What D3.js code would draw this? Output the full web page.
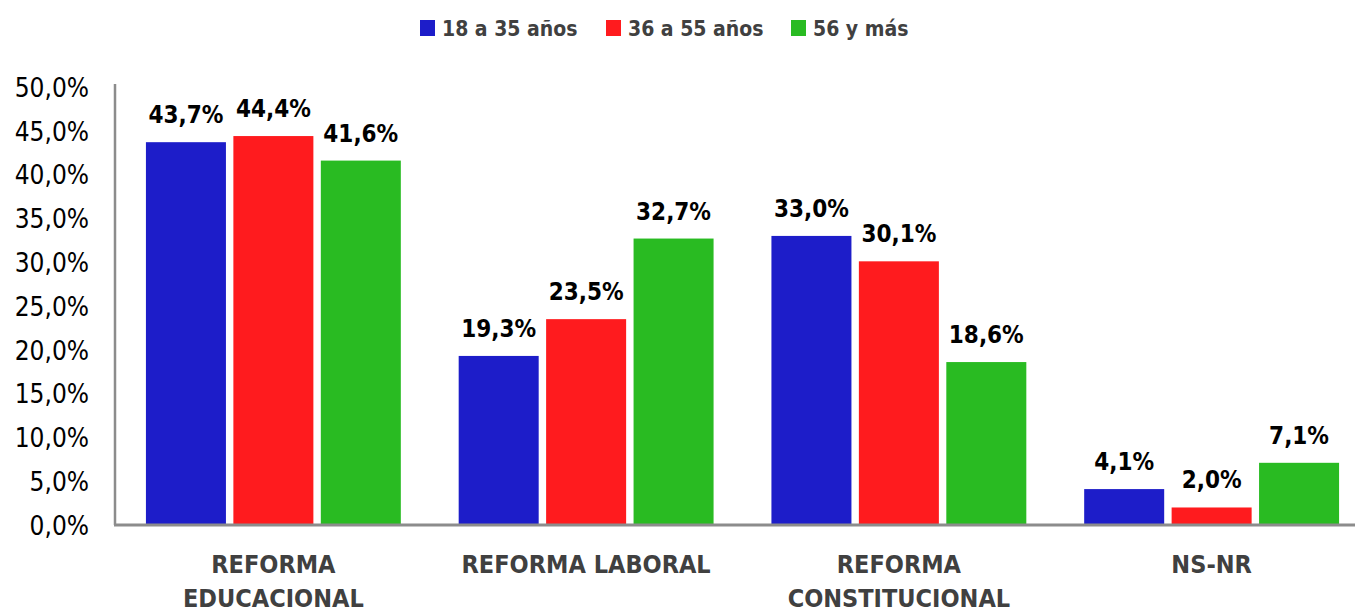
<!DOCTYPE html>
<html>
<head>
<meta charset="utf-8">
<script src="https://cdn.jsdelivr.net/npm/d3@7"></script>
<style>
  body { margin: 0; background: #fff; }
  svg { display: block; }
  text { font-family: "Liberation Sans Narrow", "DejaVu Sans Condensed", sans-serif; }
</style>
</head>
<body>
<div class="gv-chart"></div>
<script>
var categories = ["REFORMA\nEDUCACIONAL", "REFORMA LABORAL", "REFORMA\nCONSTITUCIONAL", "NS-NR"];
var seriesNames = ["18 a 35 años", "36 a 55 años", "56 y más"];
var seriesColors = ["#1d1dc9", "#ff1b1e", "#29bb22"];
var young = [43.7, 19.3, 33.0, 4.1];
var middle = [44.4, 23.5, 30.1, 2.0];
var older = [41.6, 32.7, 18.6, 7.1];
var yTicks = [0, 5, 10, 15, 20, 25, 30, 35, 40, 45, 50];

var width = 1355, height = 616;
var margin = {top: 87, bottom: 91, left: 115};

var values = [young, middle, older];

var svg = d3.select(".gv-chart").append("svg")
    .attr("width", width)
    .attr("height", height);

var x0 = d3.scaleBand()
    .domain(categories)
    .range([117, 1368])
    .paddingInner(0.185)
    .paddingOuter(0.0925);

var x1 = d3.scaleBand()
    .domain(d3.range(seriesNames.length))
    .range([0, x0.bandwidth()])
    .paddingInner(0.085);

var y = d3.scaleLinear()
    .domain([0, 50])
    .range([height - margin.bottom, margin.top]);

var comma = function(v) { return d3.format(".1f")(v).replace(".", ",") + "%"; };

// y axis
var yAxis = svg.append("g")
    .attr("transform", "translate(" + margin.left + ",0)")
    .call(d3.axisLeft(y).tickValues(yTicks).tickSize(0).tickPadding(26).tickFormat(comma));
yAxis.select(".domain").attr("stroke", "#8c8c8c").attr("stroke-width", 2.5)
    .attr("d", "M0," + (margin.top - 3) + "V" + y(0));
yAxis.selectAll("text")
    .style("font-family", null)
    .attr("font-size", 26)
    .attr("fill", "#000")
    .attr("dy", "0.36em");

// bars
var groups = svg.selectAll(".grp")
    .data(categories)
    .enter().append("g")
    .attr("class", "grp")
    .attr("transform", function(d) { return "translate(" + x0(d) + ",0)"; });

groups.selectAll("rect")
    .data(function(d, i) { return values.map(function(s, k) { return {k: k, v: s[i]}; }); })
    .enter().append("rect")
    .attr("x", function(d) { return x1(d.k); })
    .attr("y", function(d) { return y(d.v); })
    .attr("width", x1.bandwidth())
    .attr("height", function(d) { return y(0) - y(d.v); })
    .attr("fill", function(d) { return seriesColors[d.k]; });

groups.selectAll(".lbl")
    .data(function(d, i) { return values.map(function(s, k) { return {k: k, v: s[i]}; }); })
    .enter().append("text")
    .attr("class", "lbl")
    .attr("x", function(d) { return x1(d.k) + x1.bandwidth() / 2; })
    .attr("y", function(d) { return y(d.v) - 19; })
    .attr("text-anchor", "middle")
    .attr("font-size", 24)
    .attr("font-weight", "bold")
    .attr("fill", "#000")
    .text(function(d) { return comma(d.v); });

// x axis line
svg.append("line")
    .attr("x1", margin.left - 1).attr("x2", width)
    .attr("y1", y(0)).attr("y2", y(0))
    .attr("stroke", "#8c8c8c")
    .attr("stroke-width", 3);

// category labels
svg.selectAll(".cat")
    .data(categories)
    .enter().append("text")
    .attr("class", "cat")
    .attr("text-anchor", "middle")
    .attr("font-size", 25)
    .attr("font-weight", "bold")
    .attr("fill", "#404040")
    .each(function(d) {
      var t = d3.select(this);
      d.split("\n").forEach(function(line, i) {
        t.append("tspan")
          .attr("x", x0(d) + x0.bandwidth() / 2)
          .attr("y", 573 + i * 34)
          .text(line);
      });
    });

// legend
var legendX = [420, 606, 791];
var legend = svg.selectAll(".leg")
    .data(seriesNames)
    .enter().append("g")
    .attr("class", "leg")
    .attr("transform", function(d, i) { return "translate(" + legendX[i] + ",20)"; });

legend.append("rect")
    .attr("width", 15).attr("height", 16)
    .attr("fill", function(d, i) { return seriesColors[i]; });

legend.append("text")
    .attr("x", 22)
    .attr("y", 16)
    .attr("font-size", 21)
    .attr("font-weight", "bold")
    .attr("fill", "#404040")
    .text(function(d) { return d; });
</script>
</body>
</html>
